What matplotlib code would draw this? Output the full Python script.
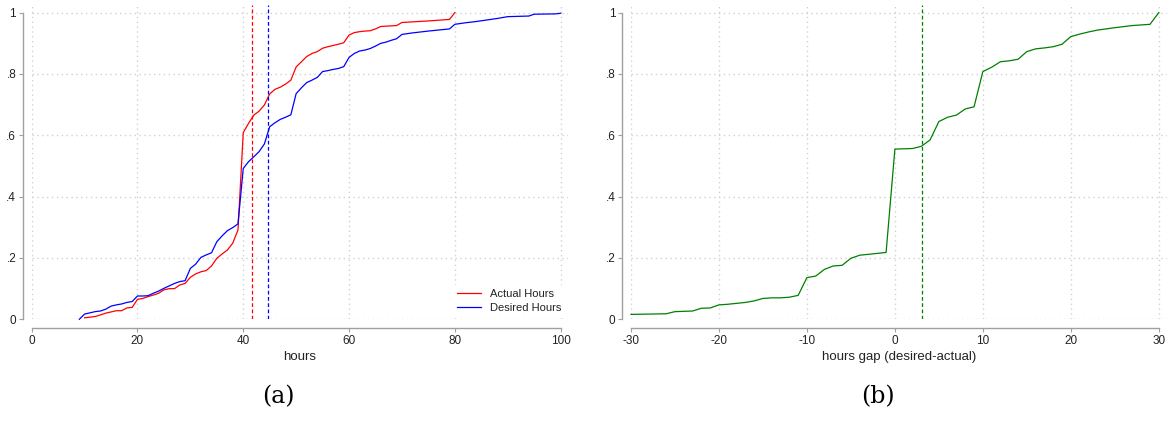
import matplotlib.pyplot as plt

# CDF of actual and desired weekly hours
actual_hours = [10, 12, 14, 16, 17, 18, 19, 20, 21, 22, 23, 24, 25, 26, 27, 28, 29,
                30, 31, 32, 33, 34, 35, 36, 37, 38, 39, 40, 41, 42, 43, 44, 45, 46,
                47, 48, 49, 50, 51, 52, 53, 54, 55, 56, 57, 58, 59, 60, 61, 62, 63,
                64, 65, 66, 67, 68, 69, 70, 72, 75, 79, 80]
actual_cdf = [0.005, 0.009, 0.02, 0.028, 0.028, 0.037, 0.039, 0.065, 0.068, 0.074,
              0.079, 0.085, 0.096, 0.1, 0.1, 0.112, 0.117, 0.137, 0.148, 0.155,
              0.159, 0.174, 0.199, 0.213, 0.226, 0.248, 0.291, 0.609, 0.639, 0.666,
              0.679, 0.699, 0.735, 0.75, 0.757, 0.767, 0.78, 0.823, 0.84, 0.857,
              0.867, 0.873, 0.884, 0.889, 0.893, 0.897, 0.902, 0.927, 0.935, 0.938,
              0.94, 0.941, 0.947, 0.955, 0.956, 0.957, 0.958, 0.968, 0.97, 0.973,
              0.978, 1.0]

desired_hours = [9, 10, 12, 13, 14, 15, 16, 17, 18, 19, 20, 21, 22, 23, 24, 25, 26,
                 27, 28, 29, 30, 31, 32, 33, 34, 35, 36, 37, 38, 39, 40, 41, 42, 43,
                 44, 45, 46, 47, 48, 49, 50, 51, 52, 53, 54, 55, 56, 57, 58, 59, 60,
                 61, 62, 63, 64, 65, 66, 67, 68, 69, 70, 72, 75, 79, 80, 82, 84, 86,
                 88, 90, 94, 95, 99, 100]
desired_cdf = [0.0, 0.017, 0.025, 0.027, 0.033, 0.043, 0.047, 0.05, 0.055, 0.058,
               0.076, 0.076, 0.077, 0.085, 0.092, 0.101, 0.109, 0.117, 0.123, 0.126,
               0.166, 0.18, 0.202, 0.21, 0.217, 0.253, 0.272, 0.289, 0.299, 0.311,
               0.492, 0.514, 0.53, 0.547, 0.572, 0.628, 0.641, 0.652, 0.659, 0.667,
               0.736, 0.755, 0.772, 0.78, 0.789, 0.808, 0.811, 0.815, 0.818, 0.824,
               0.854, 0.867, 0.875, 0.878, 0.883, 0.891, 0.9, 0.904, 0.91, 0.915,
               0.929, 0.934, 0.94, 0.947, 0.962, 0.967, 0.971, 0.976, 0.981, 0.987,
               0.989, 0.995, 0.996, 0.998]

mean_actual = 41.7
mean_desired = 44.6

# CDF of the hours gap (desired - actual)
gap = [-30, -26, -25, -23, -22, -21, -20, -19, -18, -17, -16, -15, -14, -13, -12,
       -11, -10, -9, -8, -7, -6, -5, -4, -3, -2, -1, 0, 2, 3, 4, 5, 6, 7, 8, 9,
       10, 11, 12, 13, 14, 15, 16, 17, 18, 19, 20, 21, 22, 23, 25, 27, 29, 30]
gap_cdf = [0.016, 0.018, 0.025, 0.027, 0.036, 0.037, 0.047, 0.049, 0.052, 0.055,
           0.06, 0.068, 0.07, 0.07, 0.072, 0.078, 0.136, 0.141, 0.163, 0.174,
           0.176, 0.199, 0.209, 0.212, 0.215, 0.218, 0.555, 0.557, 0.564, 0.585,
           0.645, 0.659, 0.666, 0.686, 0.693, 0.808, 0.822, 0.84, 0.843, 0.848,
           0.873, 0.882, 0.885, 0.889, 0.897, 0.922, 0.93, 0.937, 0.943, 0.951,
           0.958, 0.962, 1.0]
mean_gap = 3.1

yticks = [0, 0.2, 0.4, 0.6, 0.8, 1]
ytick_labels = ['0', '.2', '.4', '.6', '.8', '1']

plt.rcParams['font.family'] = ['Liberation Sans', 'DejaVu Sans']
plt.rcParams['axes.unicode_minus'] = False

W, H = 1169, 442
fig = plt.figure(figsize=(W / 100, H / 100), dpi=100)

ax1 = fig.add_axes([31.7 / W, 1 - 319.3 / H, (568 - 31.7) / W, (319.3 - 5) / H])
ax2 = fig.add_axes([631 / W, 1 - 319.3 / H, (1166.7 - 631) / W, (319.3 - 5) / H])


def style(ax, xticks, xmin, xmax):
    ax.set_xlim(xmin, xmax)
    ax.set_ylim(0, 1.025)
    ax.set_xticks(xticks)
    ax.set_yticks(yticks)
    ax.set_yticklabels(ytick_labels)
    for s in ['top', 'right']:
        ax.spines[s].set_visible(False)
    for s in ['left', 'bottom']:
        ax.spines[s].set_position(('outward', 6.2))
        ax.spines[s].set_color('#a0a0a0')
        ax.spines[s].set_linewidth(1.0)
    ax.spines['left'].set_bounds(0, 1)
    ax.spines['bottom'].set_bounds(xticks[0], xticks[-1])
    ax.tick_params(length=3, width=0.8, color='#a0a0a0', labelsize=8.5,
                   labelcolor='#222222', pad=2)
    ax.grid(True, color='#d0d0d0', linestyle=(0, (1, 2.5)), linewidth=1.0)
    ax.set_axisbelow(True)


# (a) hours
style(ax1, [0, 20, 40, 60, 80, 100], 0, 101.4)
ax1.plot(actual_hours, actual_cdf, color='#ff0000', lw=0.9, label='Actual Hours', clip_on=False)
ax1.plot(desired_hours, desired_cdf, color='#0000ff', lw=0.9, label='Desired Hours', clip_on=False)
ax1.axvline(mean_actual, color='#ff0000', lw=0.9, linestyle=(0, (3, 2)))
ax1.axvline(mean_desired, color='#0000ff', lw=0.9, linestyle=(0, (3, 2)))
ax1.set_xlabel('hours', fontsize=9.5, color='#222222', labelpad=3)
leg = ax1.legend(loc='lower right', fontsize=8, frameon=True, fancybox=False,
                 edgecolor='white', facecolor='white', framealpha=1,
                 handlelength=2.2, borderaxespad=0.2, labelspacing=0.3)
for t in leg.get_texts():
    t.set_color('#222222')

# (b) hours gap
style(ax2, [-30, -20, -10, 0, 10, 20, 30], -30, 30.9)
ax2.plot(gap, gap_cdf, color='#008000', lw=0.9, clip_on=False)
ax2.axvline(mean_gap, color='#008000', lw=0.9, linestyle=(0, (3, 2)))
ax2.set_xlabel('hours gap (desired-actual)', fontsize=9.5, color='#222222', labelpad=3)

fig.text(278 / W, 1 - 397 / H, '(a)', family='DejaVu Serif', fontsize=17,
         ha='center', va='center')
fig.text(878 / W, 1 - 397 / H, '(b)', family='DejaVu Serif', fontsize=17,
         ha='center', va='center')

fig.savefig('out.png', dpi=100)
